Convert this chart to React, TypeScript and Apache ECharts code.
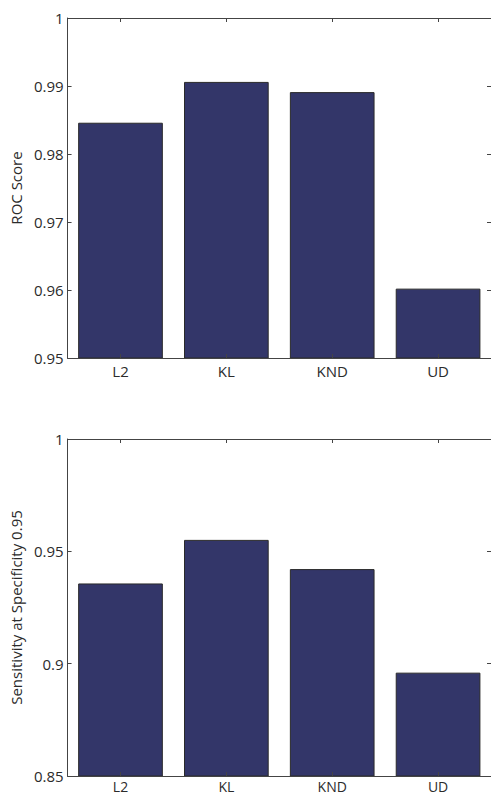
import React, { useEffect, useRef } from "react";
import * as echarts from "echarts";

const categories = ["L2", "KL", "KND", "UD"];
const rocScores = [0.9846, 0.9906, 0.9891, 0.9602];
const sensitivityScores = [0.9357, 0.9551, 0.9421, 0.896];
const rocTicks = { min: 0.95, max: 1, interval: 0.01 };
const sensTicks = { min: 0.85, max: 1, interval: 0.05 };

const FONT = "Open Sans";
const TEXT = "#2b2b2b";
const AXIS = "#444";
const BAR = "#333669";

const fmt = (v: number) => String(parseFloat(v.toFixed(3)));

export default function App() {
  const ref = useRef<HTMLDivElement>(null);
  useEffect(() => {
    document.body.style.margin = "0";
    const chart = echarts.init(ref.current!, null, { renderer: "svg" });
    const grids = [
      { left: 64, top: 18, width: 428, height: 340 },
      { left: 67, top: 439, width: 428, height: 337 },
    ];
    const xAxes: any[] = [];
    const yAxes: any[] = [];
    const ranges = [rocTicks, sensTicks];
    const names = ["ROC Score", "Sensitivity at Specificity 0.95"];
    const gaps = [40, 42];
    const xLabelMargin = [5, 3];
    const xLabelSize = [15, 14];
    [0, 1].forEach((i) => {
      xAxes.push({
        type: "category",
        data: categories,
        gridIndex: i,
        position: "bottom",
        axisLine: { show: true, lineStyle: { color: AXIS, width: 1 } },
        axisTick: { show: true, inside: true, alignWithLabel: true, length: 4, lineStyle: { color: AXIS } },
        axisLabel: {
          color: TEXT,
          fontFamily: FONT,
          fontSize: xLabelSize[i],
          lineHeight: xLabelSize[i],
          margin: xLabelMargin[i],
        },
        z: 10,
      });
      xAxes.push({
        type: "category",
        data: categories,
        gridIndex: i,
        position: "top",
        axisLine: { show: true, lineStyle: { color: AXIS, width: 1 } },
        axisTick: { show: true, inside: true, alignWithLabel: true, length: 4, lineStyle: { color: AXIS } },
        axisLabel: { show: false },
      });
      const r = ranges[i];
      yAxes.push({
        type: "value",
        gridIndex: i,
        position: "left",
        min: r.min,
        max: r.max,
        interval: r.interval,
        name: names[i],
        nameLocation: "middle",
        nameGap: gaps[i],
        nameTextStyle: { color: TEXT, fontFamily: FONT, fontSize: 15 },
        axisLine: { show: true, lineStyle: { color: AXIS, width: 1 } },
        axisTick: { show: true, inside: true, length: 4, lineStyle: { color: AXIS } },
        axisLabel: { color: TEXT, fontFamily: FONT, fontSize: 15, margin: 4, formatter: fmt },
        splitLine: { show: false },
      });
      yAxes.push({
        type: "value",
        gridIndex: i,
        position: "right",
        min: r.min,
        max: r.max,
        interval: r.interval,
        axisLine: { show: true, lineStyle: { color: AXIS, width: 1 } },
        axisTick: { show: true, inside: true, length: 4, lineStyle: { color: AXIS } },
        axisLabel: { show: false },
        splitLine: { show: false },
      });
    });
    chart.setOption({
      animation: false,
      grid: grids,
      xAxis: xAxes,
      yAxis: yAxes,
      series: [
        {
          type: "bar",
          xAxisIndex: 0,
          yAxisIndex: 0,
          data: rocScores,
          barCategoryGap: "20%",
          itemStyle: { color: BAR, borderColor: "#2a2a2a", borderWidth: 1 },
        },
        {
          type: "bar",
          xAxisIndex: 2,
          yAxisIndex: 2,
          data: sensitivityScores,
          barCategoryGap: "20%",
          itemStyle: { color: BAR, borderColor: "#2a2a2a", borderWidth: 1 },
        },
      ],
    });
    return () => chart.dispose();
  }, []);
  return <div ref={ref} style={{ width: 491, height: 795 }} />;
}
